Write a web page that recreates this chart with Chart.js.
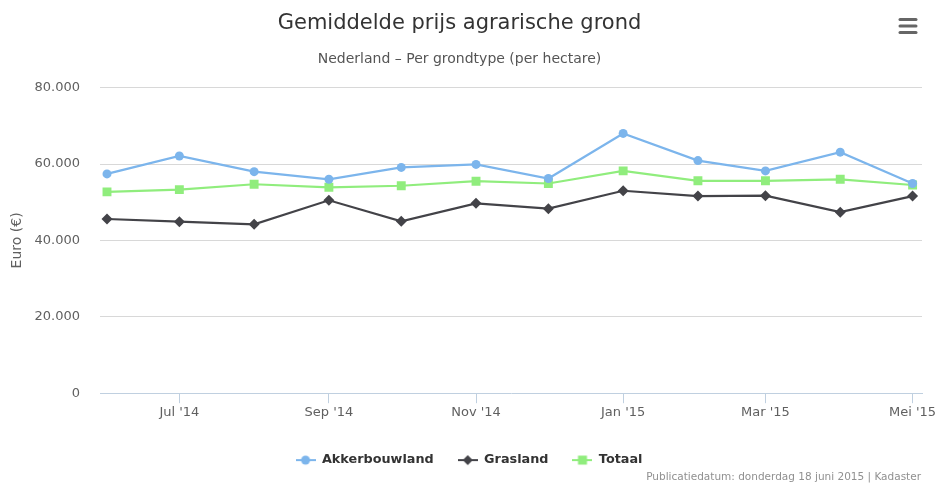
<!DOCTYPE html>
<html><head><meta charset="utf-8">
<script src="https://cdn.jsdelivr.net/npm/chart.js@4.4.1/dist/chart.umd.min.js"></script>
<style>html,body{margin:0;padding:0;background:#fff;overflow:hidden}#wrap{width:935px;height:483px;position:relative}</style>
</head><body><div id="wrap"><canvas id="c" width="935" height="483"></canvas></div>
<script>
// ---- data ----
const months = ['2014-06-01','2014-07-01','2014-08-01','2014-09-01','2014-10-01','2014-11-01','2014-12-01','2015-01-01','2015-02-01','2015-03-01','2015-04-01','2015-05-01'];
const akkerbouwland = [57400, 62100, 58000, 56000, 59100, 59900, 56200, 68000, 60900, 58200, 63100, 54900];
const grasland      = [45600, 44900, 44200, 50500, 45000, 49700, 48300, 53000, 51600, 51700, 47400, 51600];
const totaal        = [52700, 53300, 54700, 53900, 54300, 55500, 54900, 58200, 55600, 55600, 56000, 54500];
const tickDates  = ['2014-07-01','2014-09-01','2014-11-01','2015-01-01','2015-03-01','2015-05-01'];
const tickLabels = ["Jul '14","Sep '14","Nov '14","Jan '15","Mar '15","Mei '15"];
const yTicks = [0, 20000, 40000, 60000, 80000];
const seriesNames = ['Akkerbouwland', 'Grasland', 'Totaal'];
const titleText = 'Gemiddelde prijs agrarische grond';
const subtitleText = 'Nederland \u2013 Per grondtype (per hectare)';
const yTitle = 'Euro (\u20AC)';
const creditsText = 'Publicatiedatum: donderdag 18 juni 2015 | Kadaster';

// ---- helpers ----
const FONT = '"DejaVu Sans", "Liberation Sans", sans-serif';
const base = Date.UTC(2014, 5, 1);
function dayOf(s) { const p = s.split('-').map(Number); return (Date.UTC(p[0], p[1]-1, p[2]) - base) / 86400000; }
function fmt(v) { return String(v).replace(/\B(?=(\d{3})+(?!\d))/g, '.'); }
function toPts(arr) { return arr.map((v, i) => ({x: dayOf(months[i]), y: v})); }

const colors = ['#7cb5ec', '#434348', '#90ed7d'];
const styles = ['circle', 'rectRot', 'rect'];
const radii = [4.5, 5.5, 6.3];

function legendSymbol(i) {
  const c = document.createElement('canvas');
  c.width = 20; c.height = 12;
  const g = c.getContext('2d');
  g.strokeStyle = colors[i]; g.lineWidth = 2;
  g.beginPath(); g.moveTo(0, 6); g.lineTo(20, 6); g.stroke();
  g.fillStyle = colors[i];
  g.beginPath();
  if (i === 0) { g.arc(10, 6, 4.5, 0, Math.PI * 2); }
  else if (i === 1) { g.moveTo(10, 1); g.lineTo(15, 6); g.lineTo(10, 11); g.lineTo(5, 6); g.closePath(); }
  else { g.rect(5.5, 1.5, 9, 9); }
  g.fill();
  return c;
}

const extras = {
  id: 'extras',
  afterLayout(chart) {
    chart.boxes.forEach(b => {
      if (b.options && (b.options.text === titleText || b.options.text === subtitleText)) {
        b.left -= 9.5; b.right -= 9.5;
      }
    });
  },
  afterDraw(chart) {
    const ctx = chart.ctx;
    ctx.save();
    // credits
    ctx.font = '10.5px ' + FONT;
    ctx.fillStyle = '#909090';
    ctx.textAlign = 'right';
    ctx.textBaseline = 'middle';
    ctx.fillText(creditsText, 921, 477.5);
    // menu icon
    ctx.strokeStyle = '#666666';
    ctx.lineWidth = 3;
    ctx.lineCap = 'round';
    [19.5, 26, 32.5].forEach(y => { ctx.beginPath(); ctx.moveTo(900, y); ctx.lineTo(916, y); ctx.stroke(); });
    ctx.restore();
  }
};

new Chart(document.getElementById('c'), {
  type: 'line',
  data: {
    datasets: [akkerbouwland, grasland, totaal].map((arr, i) => ({
      label: seriesNames[i],
      data: toPts(arr),
      borderColor: colors[i],
      backgroundColor: colors[i],
      borderWidth: 2.2,
      tension: 0,
      pointStyle: styles[i],
      pointRadius: radii[i],
      pointBorderWidth: 0,
      pointBackgroundColor: colors[i],
      fill: false
    }))
  },
  options: {
    responsive: false,
    devicePixelRatio: 1,
    animation: false,
    layout: { padding: { left: 16, right: 13, top: 0, bottom: 6.5 } },
    plugins: {
      title: {
        display: true, text: titleText, color: '#333333',
        font: { family: FONT, size: 21, weight: 'normal' },
        padding: { top: 11, bottom: 0 }
      },
      subtitle: {
        display: true, text: subtitleText, color: '#555555',
        font: { family: FONT, size: 14, weight: 'normal' },
        padding: { top: 15, bottom: 19.6 }
      },
      legend: {
        position: 'bottom',
        labels: {
          usePointStyle: true,
          pointStyleWidth: 20,
          padding: 24,
          color: '#333333',
          font: { family: FONT, size: 12.8, weight: 'bold' },
          generateLabels: (chart) => chart.data.datasets.map((ds, i) => ({
            text: ds.label, pointStyle: legendSymbol(i), fillStyle: colors[i],
            strokeStyle: colors[i], lineWidth: 0, hidden: false, datasetIndex: i, fontColor: '#333333'
          }))
        }
      },
      tooltip: { enabled: false }
    },
    scales: {
      x: {
        type: 'linear',
        min: -2.9, max: 337.9,
        afterBuildTicks: (s) => { s.ticks = tickDates.map(d => ({ value: dayOf(d) })); },
        afterFit: (s) => { s.height = 36.5; s.paddingLeft = 0; s.paddingRight = 0; },
        ticks: {
          autoSkip: false, maxRotation: 0, padding: 2, color: '#606060',
          font: { family: FONT, size: 13 },
          callback: (v, i) => tickLabels[i]
        },
        grid: { drawOnChartArea: false, drawTicks: true, tickLength: 10, color: '#C0D0E0', lineWidth: 1 },
        border: { display: true, color: '#C0D0E0', width: 1 }
      },
      y: {
        min: 0, max: 80000,
        afterBuildTicks: (s) => { s.ticks = yTicks.map(v => ({ value: v })); },
        afterFit: (s) => { s.width = 84; },
        ticks: {
          padding: 20, color: '#606060',
          font: { family: FONT, size: 13 },
          callback: (v) => fmt(v)
        },
        grid: {
          drawTicks: false,
          color: (ctx) => (ctx.tick && ctx.tick.value === 0) ? 'rgba(0,0,0,0)' : '#D8D8D8'
        },
        border: { display: false },
        title: {
          display: true, text: yTitle, color: '#606060',
          font: { family: FONT, size: 14 },
          padding: { top: -7.4, bottom: 0 }
        }
      }
    }
  },
  plugins: [extras]
});
</script>
</body></html>
